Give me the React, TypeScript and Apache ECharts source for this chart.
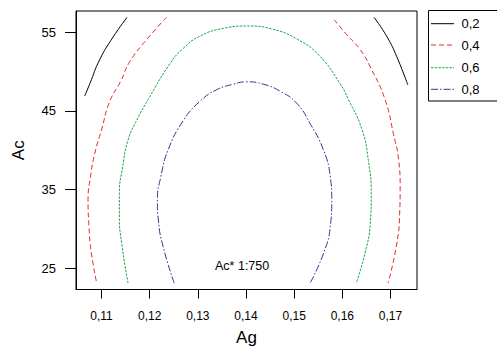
import React, { useEffect, useRef } from "react";
import * as echarts from "echarts";

const FONT = "'Liberation Sans', Arial, Helvetica, sans-serif";

const xTicks = [0.11, 0.12, 0.13, 0.14, 0.15, 0.16, 0.17];
const yTicks = [25, 35, 45, 55];
const levelNames = ["0,2", "0,4", "0,6", "0,8"];
const noteText = "Ac* 1:750";

// contour 0,2 (two pieces)
const black1: number[][] = [
  [0.1065, 46.9], [0.1076, 48.5], [0.1096, 51.5], [0.1124, 54.4], [0.1153, 56.9],
];
const black2: number[][] = [
  [0.1666, 56.9], [0.1693, 54.4], [0.1713, 51.9], [0.1736, 48.3],
];
// contour 0,4 (two pieces)
const red1: number[][] = [
  [0.1235, 56.9], [0.1194, 54.1], [0.1159, 51.3], [0.114, 48.8], [0.1117, 46.2],
  [0.11, 42.6], [0.1086, 39.6], [0.1077, 36.6], [0.1072, 33.7], [0.1074, 30.3],
  [0.1078, 27.3], [0.109, 23.1],
];
const red2: number[][] = [
  [0.1583, 56.6], [0.1609, 54.7], [0.1637, 52.8], [0.1658, 50.6], [0.1689, 46.4],
  [0.1706, 42.1], [0.1717, 38.7], [0.172, 35.3], [0.1719, 32.0], [0.1713, 28.1],
  [0.1695, 23.1],
];
// contour 0,6
const green: number[][] = [
  [0.1155, 23.1], [0.1142, 28.1], [0.1137, 31.5], [0.1137, 34.5], [0.1144, 37.9],
  [0.1155, 41.3], [0.1173, 43.8], [0.12, 46.8], [0.1242, 51.0], [0.1267, 52.8],
  [0.1304, 54.5], [0.1353, 55.5], [0.1403, 55.8], [0.1455, 55.4], [0.1507, 54.1],
  [0.1551, 52.1], [0.1595, 48.5], [0.1613, 46.4], [0.1641, 42.6], [0.1654, 38.7],
  [0.166, 34.5], [0.1658, 30.7], [0.1647, 26.9], [0.1629, 23.1],
];
// contour 0,8
const blue: number[][] = [
  [0.1251, 23.1], [0.1228, 27.7], [0.1218, 31.1], [0.1216, 33.7], [0.1223, 36.6],
  [0.1238, 40.0], [0.127, 43.8], [0.1304, 46.2], [0.1339, 47.7], [0.1374, 48.4],
  [0.1401, 48.7], [0.1436, 48.4], [0.1471, 47.5], [0.1505, 46.0], [0.1533, 43.4],
  [0.1561, 40.0], [0.1575, 36.6], [0.1578, 33.7], [0.1575, 30.3], [0.1561, 26.9],
  [0.1533, 23.1],
];

const styles = [
  { color: "#000000", width: 1, type: "solid" as any, dash: null as any },
  { color: "#e3262f", width: 1, type: [5, 3] as any, dash: [5, 3] },
  { color: "#17a64a", width: 1, type: [2.5, 1.2] as any, dash: [2.5, 1.2] },
  { color: "#3b2e8c", width: 1, type: [7, 2, 1.5, 2] as any, dash: [7, 2, 1.5, 2] },
];

function mk(name: string, data: number[][], st: any) {
  return {
    type: "line",
    name,
    data,
    smooth: 0.5,
    symbol: "none",
    showSymbol: false,
    lineStyle: { color: st.color, width: st.width, type: st.type },
    itemStyle: { color: st.color },
    silent: true,
  };
}

const legendRows = [23.7, 45, 67.7, 89.3];

function legendGraphics() {
  const els: any[] = [
    {
      type: "rect",
      shape: { x: 428.5, y: 10.5, width: 70, height: 90.5 },
      style: { fill: "#fff", stroke: "#000", lineWidth: 1 },
      silent: true,
    },
  ];
  levelNames.forEach((n, i) => {
    const st = styles[i];
    els.push({
      type: "line",
      shape: { x1: 431, y1: legendRows[i], x2: 454, y2: legendRows[i] },
      style: { stroke: st.color, lineWidth: 1, lineDash: st.dash || undefined },
      silent: true,
    });
    els.push({
      type: "text",
      x: 461.5,
      y: legendRows[i],
      style: {
        text: n,
        fontSize: 13,
        fontFamily: FONT,
        fill: "#000",
        verticalAlign: "middle",
        align: "left",
      },
      silent: true,
    });
  });
  return els;
}

export default function App() {
  const ref = useRef<HTMLDivElement>(null);
  useEffect(() => {
    if (!ref.current) return;
    const chart = echarts.init(ref.current, null, { renderer: "svg" });
    chart.setOption({
      animation: false,
      backgroundColor: "#ffffff",
      grid: {
        left: 76,
        top: 11,
        right: 80,
        bottom: 59.5,
        show: true,
        borderColor: "#000",
        borderWidth: 1,
        containLabel: false,
        outerBoundsMode: "none",
      },
      xAxis: {
        type: "value",
        min: 0.1047,
        max: 0.1755,
        name: "Ag",
        nameLocation: "middle",
        nameGap: 39,
        nameTextStyle: { fontSize: 17, color: "#000", fontFamily: FONT },
        axisLine: { show: true, lineStyle: { color: "#000", width: 1 } },
        axisTick: { show: true, length: 9, lineStyle: { color: "#000" }, customValues: xTicks },
        axisLabel: {
          show: true,
          margin: 20,
          fontSize: 12,
          color: "#000",
          fontFamily: FONT,
          customValues: xTicks,
          formatter: (v: number) => v.toFixed(2).replace(".", ","),
        },
        splitLine: { show: false },
      },
      yAxis: {
        type: "value",
        min: 22.29,
        max: 57.71,
        name: "Ac",
        nameLocation: "middle",
        nameGap: 49,
        nameTextStyle: { fontSize: 17, color: "#000", fontFamily: FONT },
        axisLine: { show: true, lineStyle: { color: "#000", width: 1 } },
        axisTick: { show: true, length: 11, lineStyle: { color: "#000" }, customValues: yTicks },
        axisLabel: {
          show: true,
          margin: 20,
          fontSize: 13,
          color: "#000",
          fontFamily: FONT,
          customValues: yTicks,
          formatter: (v: number) => String(Math.round(v)),
        },
        splitLine: { show: false },
      },
      graphic: [
        {
          type: "text",
          left: 215,
          top: 259,
          style: { text: noteText, fontSize: 12.5, fontFamily: FONT, fill: "#000" },
          silent: true,
        },
        ...legendGraphics(),
      ],
      series: [
        mk(levelNames[0], black1, styles[0]),
        mk(levelNames[0], black2, styles[0]),
        mk(levelNames[1], red1, styles[1]),
        mk(levelNames[1], red2, styles[1]),
        mk(levelNames[2], green, styles[2]),
        mk(levelNames[3], blue, styles[3]),
      ],
    });
    return () => chart.dispose();
  }, []);
  return (
    <div
      ref={ref}
      style={{ position: "absolute", left: 0, top: 0, width: 497, height: 349, background: "#fff" }}
    />
  );
}
